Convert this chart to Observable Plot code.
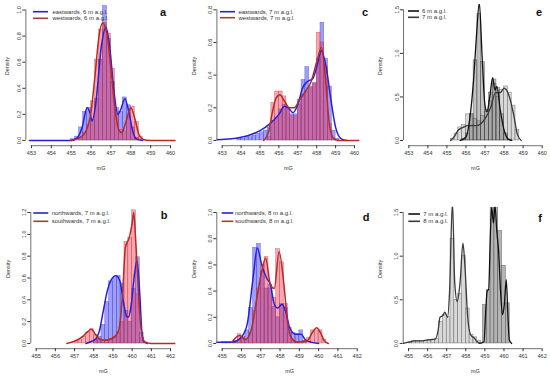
<!DOCTYPE html>
<html><head><meta charset="utf-8">
<script src="https://cdn.jsdelivr.net/npm/d3@7"></script>
<script src="https://cdn.jsdelivr.net/npm/@observablehq/plot@0.6"></script>
<style>
body{margin:0;background:#fff;font-family:"Liberation Sans",Arial,sans-serif;}
#wrap{position:relative;width:550px;height:378px;overflow:hidden;background:#fff;}
.panel{position:absolute;}
.panel svg{overflow:visible;display:block;}
.lab{position:absolute;font-weight:bold;font-size:11px;color:#111;transform:translate(-50%,-50%);line-height:1;}
</style></head><body><div id="wrap"></div>
<script>
const binW = 0.2;
const ticksTop = [453,454,455,456,457,458,459,460];
const ticksBottom = [455,456,457,458,459,460,461,462];

// Panel a
const aEastStart = 455.0;
const aEastHist = [0.01,0.03,0.1,0.22,0.25,0.16,0.32,0.62,1.03,0.78,0.45,0.25,0.22,0.33,0.27,0.1,0.02];
const aWestStart = 455.4;
const aWestHist = [0.02,0.06,0.12,0.3,0.62,0.85,0.9,0.82,0.55,0.2,0.08,0.07,0.18,0.26,0.14,0.03];
const aEastDens = [[452.9,0],[455.0,0],[455.3,0.02],[455.55,0.1],[455.8,0.25],[455.95,0.21],[456.05,0.15],[456.25,0.3],[456.5,0.7],[456.75,0.87],[456.95,0.7],[457.15,0.38],[457.35,0.2],[457.5,0.24],[457.7,0.32],[457.9,0.22],[458.1,0.07],[458.3,0.01],[458.6,0]];
const aWestDens = [[455.0,0],[455.4,0.02],[455.7,0.06],[456.0,0.22],[456.2,0.5],[456.4,0.8],[456.58,0.9],[456.8,0.82],[457.0,0.55],[457.2,0.25],[457.4,0.08],[457.55,0.06],[457.75,0.14],[458.0,0.25],[458.2,0.17],[458.4,0.05],[458.6,0.01],[459.0,0],[460.4,0]];

// Panel c
const cEastStart = 453.8;
const cEastHist = [0.01,0.01,0.02,0.02,0.03,0.04,0.05,0.06,0.08,0.12,0.14,0.19,0.22,0.2,0.16,0.16,0.25,0.37,0.45,0.33,0.35,0.5,0.72,0.5,0.33,0.06,0.01];
const cWestStart = 455.4;
const cWestHist = [0.02,0.23,0.3,0.3,0.27,0.2,0.15,0.15,0.22,0.28,0.3,0.32,0.35,0.66,0.6,0.45,0.1,0.01];
const cEastDens = [[452.72,0.005],[453.5,0.01],[454.0,0.02],[454.5,0.035],[455.0,0.06],[455.5,0.1],[456.0,0.16],[456.3,0.21],[456.5,0.2],[456.75,0.17],[457.0,0.22],[457.25,0.32],[457.5,0.36],[457.8,0.38],[458.0,0.45],[458.25,0.55],[458.5,0.45],[458.75,0.25],[459.0,0.08],[459.3,0.01],[459.6,0]];
const cWestDens = [[455.2,0],[455.45,0.05],[455.65,0.17],[455.85,0.26],[456.05,0.28],[456.3,0.24],[456.55,0.2],[456.8,0.2],[457.1,0.25],[457.4,0.3],[457.7,0.36],[458.0,0.48],[458.25,0.57],[458.45,0.4],[458.65,0.12],[458.85,0.02],[459.1,0],[460.4,0]];

// Panel e
const e6Start = 455.8;
const e6Hist = [0.02,0.08,0.3,0.92,1.45,0.9,0.35,0.55,0.7,0.6,0.3,0.08,0.01];
const e7Start = 455.2;
const e7Hist = [0.02,0.08,0.15,0.18,0.3,0.3,0.25,0.22,0.28,0.33,0.45,0.65,0.5,0.58,0.62,0.55,0.4,0.12];
const e6Dens = [[455.7,0],[456.0,0.04],[456.2,0.25],[456.4,0.7],[456.55,1.2],[456.7,1.58],[456.85,0.95],[457.0,0.4],[457.1,0.33],[457.25,0.5],[457.4,0.72],[457.52,0.58],[457.62,0.62],[457.8,0.35],[458.0,0.12],[458.2,0.02],[458.4,0]];
const e7Dens = [[455.2,0],[455.4,0.05],[455.6,0.12],[455.85,0.15],[456.1,0.17],[456.4,0.17],[456.7,0.18],[457.0,0.25],[457.3,0.38],[457.55,0.55],[457.8,0.55],[458.0,0.6],[458.25,0.52],[458.5,0.3],[458.7,0.07],[458.9,0]];

// Panel b
const bNorthStart = 458.0;
const bNorthHist = [0.03,0.06,0.17,0.38,0.57,0.6,0.62,0.55,0.3,0.2,0.5,0.79,0.1,0.01];
const bSouthStart = 457.0;
const bSouthHist = [0.02,0.03,0.06,0.1,0.13,0.08,0.04,0.03,0.03,0.04,0.06,0.1,0.2,0.93,0.97,1.22,0.45,0.05];
const bNorthDens = [[457.6,0],[457.9,0.02],[458.1,0.04],[458.3,0.12],[458.5,0.3],[458.7,0.48],[458.9,0.58],[459.15,0.62],[459.35,0.58],[459.55,0.38],[459.7,0.25],[459.8,0.24],[459.95,0.35],[460.1,0.6],[460.25,0.76],[460.4,0.45],[460.5,0.12],[460.6,0.02],[460.8,0]];
const bSouthDens = [[456.6,0],[457.0,0.02],[457.4,0.06],[457.7,0.11],[457.88,0.13],[458.1,0.08],[458.3,0.04],[458.6,0.03],[459.0,0.05],[459.3,0.12],[459.5,0.45],[459.65,0.88],[459.85,0.97],[460.0,1.1],[460.08,1.2],[460.2,0.9],[460.35,0.4],[460.5,0.08],[460.7,0.01],[461.0,0],[462.4,0]];

// Panel d
const dNorthStart = 455.0;
const dNorthHist = [0.01,0.01,0.01,0.02,0.03,0.05,0.1,0.27,0.73,0.76,0.55,0.42,0.45,0.28,0.2,0.3,0.27,0.12,0.08,0.07,0.1,0.02];
const dSouthStart = 455.6;
const dSouthHist = [0.02,0.07,0.04,0.03,0.08,0.25,0.42,0.6,0.66,0.42,0.35,0.72,0.62,0.3,0.08,0.02,0.01,0.01,0.02,0.04,0.1,0.1,0.1,0.03];
const dNorthDens = [[454.72,0.01],[455.5,0.01],[456.0,0.05],[456.3,0.15],[456.6,0.5],[456.82,0.73],[457.05,0.6],[457.3,0.5],[457.5,0.45],[457.7,0.3],[457.88,0.27],[458.1,0.3],[458.3,0.24],[458.5,0.12],[458.8,0.07],[459.1,0.07],[459.3,0.03],[459.6,0.01],[460.0,0]];
const dSouthDens = [[455.5,0.01],[455.9,0.06],[456.2,0.03],[456.5,0.1],[456.8,0.35],[457.05,0.55],[457.25,0.65],[457.5,0.45],[457.7,0.42],[457.95,0.7],[458.2,0.45],[458.4,0.15],[458.6,0.04],[458.9,0.01],[459.4,0.02],[459.7,0.09],[459.9,0.12],[460.1,0.08],[460.3,0.02],[460.5,0]];

// Panel f
const f7Start = 458.9;
const f7Hist = [0.44,0.61,1.55,1.55,1.29,0.89,0.46];
const f8Start = 455.0;
const f8Hist = [0.01,0.03,0.03,0.03,0.03,0.04,0.04,0.05,0.25,0.33,0.3,1.2,0.5,0.57,1.0,0.4,0.1,0.07,0.03];
const f7Dens = [[458.7,0],[458.95,0.02],[459.05,0.4],[459.12,0.6],[459.2,0.62],[459.28,1.2],[459.35,1.56],[459.45,1.38],[459.53,1.58],[459.62,1.3],[459.72,1.05],[459.82,0.6],[459.92,0.33],[460.02,0.45],[460.12,0.73],[460.2,0.35],[460.28,0.04],[460.4,0]];
const f8Dens = [[454.72,0],[455.1,0.02],[455.3,0.03],[455.6,0.03],[456.0,0.04],[456.4,0.05],[456.55,0.15],[456.65,0.3],[456.8,0.32],[456.9,0.36],[457.05,0.3],[457.15,0.6],[457.3,1.62],[457.42,0.7],[457.55,0.48],[457.7,0.7],[457.85,1.15],[457.95,0.9],[458.1,0.3],[458.25,0.1],[458.45,0.06],[458.6,0.02],[458.8,0]];

const BLUE = "#2a1fd8", RED = "#b82a26";
const FONT = "Liberation Sans, Arial, sans-serif";

function bins(start, heights) {
  return heights.map((h, i) => ({x1: start + i * binW, x2: start + (i + 1) * binW, y: h}));
}

function panel(cfg) {
  const R = cfg.xhi - cfg.xlo;
  const xd = [cfg.xlo - 0.04 * R, cfg.xhi + 0.04 * R];
  const yd = [-0.04 * cfg.ymax, 1.04 * cfg.ymax];
  const drawOrder = cfg.drawOrder || cfg.series.map((_, i) => i);
  const marks = [];
  for (const i of drawOrder) {
    const s = cfg.series[i];
    marks.push(Plot.rectY(bins(s.start, s.hist), {x1: "x1", x2: "x2", y: "y", fill: s.fill, fillOpacity: s.fillOpacity, stroke: s.edge, strokeWidth: 0.5, strokeOpacity: 0.7, clip: true}));
  }
  for (const i of drawOrder) {
    const s = cfg.series[i];
    marks.push(Plot.line(s.dens, {x: d => d[0], y: d => d[1], stroke: s.line, strokeWidth: s.lw, curve: "monotone-x", clip: true}));
  }
  marks.push(Plot.ruleY([yd[0]], {x1: cfg.xlo, x2: cfg.xhi, stroke: "#333", strokeWidth: 0.7}));
  marks.push(Plot.ruleX([xd[0]], {y1: 0, y2: cfg.ymax, stroke: "#333", strokeWidth: 0.7}));
  marks.push(Plot.axisX({ticks: cfg.xticks, tickSize: 3, tickPadding: 2, tickFormat: d => String(d), label: null, fontSize: 5.5, stroke: "#333", fill: "#333"}));
  marks.push(Plot.axisY({ticks: cfg.yticks, tickSize: 3, tickPadding: 2, tickRotate: -90, tickFormat: d => d.toFixed(1), label: null, fontSize: 5.5, stroke: "#333", fill: "#333"}));
  marks.push(Plot.text(["mG"], {frameAnchor: "bottom", dy: 24, fontSize: 5.5, fill: "#333"}));
  marks.push(Plot.text(["Density"], {frameAnchor: "left", dx: cfg.denDx, rotate: -90, fontSize: 5.5, fill: "#333"}));
  const svg = Plot.plot({
    width: cfg.W, height: cfg.H,
    marginLeft: cfg.ml, marginRight: cfg.mr, marginTop: cfg.mt, marginBottom: cfg.mb,
    x: {domain: xd}, y: {domain: yd},
    style: {fontFamily: FONT, fontSize: "5.5px", color: "#333", background: "transparent", overflow: "visible"},
    marks
  });
  // legend
  const g = d3.select(svg).append("g").attr("text-anchor", "start");
  cfg.series.forEach((s, i) => {
    const yy = cfg.mt + cfg.leg.dy[i];
    g.append("line").attr("x1", cfg.ml + cfg.leg.x[0]).attr("x2", cfg.ml + cfg.leg.x[1])
      .attr("y1", yy).attr("y2", yy).attr("stroke", s.legLine || s.line).attr("stroke-width", 1.6);
    g.append("text").attr("x", cfg.ml + cfg.leg.x[2]).attr("y", yy).attr("dy", "0.35em")
      .attr("text-anchor", "start")
      .attr("font-size", 6).attr("font-family", FONT).attr("fill", "#333").text(s.name);
  });
  const div = document.createElement("div");
  div.className = "panel";
  div.style.left = cfg.L + "px"; div.style.top = cfg.T + "px";
  div.appendChild(svg);
  document.getElementById("wrap").appendChild(div);
}

const colSeries = (n1, st1, h1, d1, n2, st2, h2, d2) => [
  {name: n1, start: st1, hist: h1, dens: d1, fill: "#0000ff", fillOpacity: 0.38, edge: "#4545b5", line: BLUE, lw: 1.5},
  {name: n2, start: st2, hist: h2, dens: d2, fill: "#ff1a40", fillOpacity: 0.4, edge: "#9a5040", line: RED, lw: 1.5, legLine: "#9a4530"}
];

panel({L: 0, T: 0, W: 183, H: 189, ml: 25.4, mr: 7.4, mt: 4.3, mb: 43.8, xlo: 453, xhi: 460, xticks: ticksTop,
  ymax: 1.0, yticks: [0, 0.2, 0.4, 0.6, 0.8, 1.0], denDx: -19,
  leg: {x: [7.6, 22.6, 27], dy: [7.4, 14]},
  series: colSeries("eastwards, 6 m a.g.l.", aEastStart, aEastHist, aEastDens, "westwards, 6 m a.g.l.", aWestStart, aWestHist, aWestDens)});

panel({L: 183, T: 0, W: 184, H: 189, ml: 33.4, mr: 7.7, mt: 4.1, mb: 43.8, xlo: 453, xhi: 460, xticks: ticksTop,
  ymax: 0.8, yticks: [0, 0.2, 0.4, 0.6, 0.8], denDx: -23,
  leg: {x: [3.6, 18.6, 22], dy: [7.6, 13.6]},
  series: colSeries("eastwards, 7 m a.g.l.", cEastStart, cEastHist, cEastDens, "westwards, 7 m a.g.l.", cWestStart, cWestHist, cWestDens)});

panel({L: 367, T: 0, W: 183, H: 189, ml: 36, mr: 3, mt: 4.1, mb: 43.8, xlo: 453, xhi: 460, xticks: ticksTop,
  ymax: 1.5, yticks: [0, 0.5, 1.0, 1.5], denDx: -23,
  leg: {x: [5, 16, 19], dy: [6.9, 13.2]},
  drawOrder: [1, 0],
  series: [
    {name: "6 m a.g.l.", start: e6Start, hist: e6Hist, dens: e6Dens, fill: "#505050", fillOpacity: 0.35, edge: "#333", line: "#111", lw: 1.3},
    {name: "7 m a.g.l.", start: e7Start, hist: e7Hist, dens: e7Dens, fill: "#cccccc", fillOpacity: 0.75, edge: "#444", line: "#3a3a3a", lw: 1.3}
  ]});

panel({L: 0, T: 189, W: 183, H: 189, ml: 30.3, mr: 7.6, mt: 17.8, mb: 29.8, xlo: 455, xhi: 462, xticks: ticksBottom,
  ymax: 1.2, yticks: [0, 0.2, 0.4, 0.6, 0.8, 1.0, 1.2], denDx: -23,
  leg: {x: [3, 18, 21.4], dy: [6.2, 14.5]},
  series: colSeries("northwards, 7 m a.g.l.", bNorthStart, bNorthHist, bNorthDens, "southwards, 7 m a.g.l.", bSouthStart, bSouthHist, bSouthDens)});

panel({L: 183, T: 189, W: 184, H: 189, ml: 33.3, mr: 4.9, mt: 17.8, mb: 29.8, xlo: 455, xhi: 462, xticks: ticksBottom,
  ymax: 1.0, yticks: [0, 0.2, 0.4, 0.6, 0.8, 1.0], denDx: -23,
  leg: {x: [5.4, 17, 18.7], dy: [6.2, 14.5]},
  series: colSeries("northwards, 8 m a.g.l.", dNorthStart, dNorthHist, dNorthDens, "southwards, 8 m a.g.l.", dSouthStart, dSouthHist, dSouthDens)});

panel({L: 367, T: 189, W: 183, H: 189, ml: 35.7, mr: 3, mt: 17.8, mb: 29.8, xlo: 455, xhi: 462, xticks: ticksBottom,
  ymax: 1.5, yticks: [0, 0.5, 1.0, 1.5], denDx: -23,
  leg: {x: [5.6, 17.3, 20.6], dy: [7.2, 14.5]},
  series: [
    {name: "7 m a.g.l.", start: f7Start, hist: f7Hist, dens: f7Dens, fill: "#acacac", fillOpacity: 0.9, edge: "#333", line: "#111", lw: 1.3},
    {name: "8 m a.g.l.", start: f8Start, hist: f8Hist, dens: f8Dens, fill: "#d4d4d4", fillOpacity: 0.9, edge: "#444", line: "#3a3a3a", lw: 1.3}
  ]});

const letters = [["a", 163, 12], ["c", 365, 12], ["e", 539, 12], ["b", 164, 215], ["d", 366, 217], ["f", 540, 218]];
for (const [t, x, y] of letters) {
  const el = document.createElement("div");
  el.className = "lab"; el.textContent = t;
  el.style.left = x + "px"; el.style.top = y + "px";
  document.getElementById("wrap").appendChild(el);
}
</script></body></html>
